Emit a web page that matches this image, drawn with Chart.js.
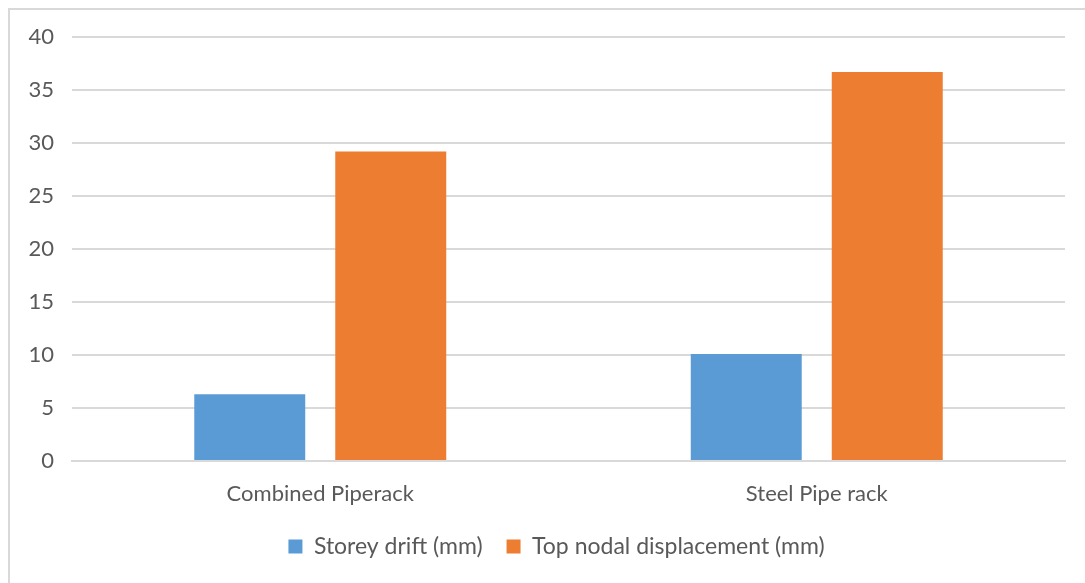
<!DOCTYPE html>
<html>
<head>
<meta charset="utf-8">
<script src="https://cdn.jsdelivr.net/npm/chart.js@4.4.1/dist/chart.umd.min.js"></script>
<style>
  html, body { margin: 0; padding: 0; background: #fff; overflow: hidden; }
  #frame { position: absolute; left: 8px; top: 8px; width: 1100px; height: 600px; border: 2px solid #d9d9d9; box-sizing: border-box; }
  #wrap { position: absolute; left: 0; top: 0; width: 1085px; height: 583px; }
</style>
</head>
<body>
<div id="frame"></div>
<div id="wrap"><canvas id="bar-chart"></canvas></div>
<script>
var categories = ['Combined Piperack', 'Steel Pipe rack'];
var storeyDrift = [6.3, 10.1];
var topNodalDisplacement = [29.2, 36.7];
var seriesNames = ['Storey drift (mm)', 'Top nodal displacement (mm)'];

var canvas = document.getElementById('bar-chart');
var font = { family: 'Lato, "Open Sans", sans-serif', size: 22 };
var legendFont = { family: 'Lato, "Open Sans", sans-serif', size: 23 };

var data = {
    labels: categories,
    datasets: [{
        label: seriesNames[0],
        data: storeyDrift,
        backgroundColor: '#5b9bd5',
        categoryPercentage: 0.568,
        barPercentage: 0.787
    }, {
        label: seriesNames[1],
        data: topNodalDisplacement,
        backgroundColor: '#ed7d31',
        categoryPercentage: 0.568,
        barPercentage: 0.787
    }]
};

// the legend in the original sits a bit right of the plot centre
var shiftLegend = {
    id: 'shiftLegend',
    afterLayout: function (chart) {
        chart.legend.left += 24;
        chart.legend.right += 24;
    }
};

var options = {
    responsive: false,
    animation: false,
    layout: { padding: { left: 0, right: 20, top: 37, bottom: 15 } },
    plugins: {
        tooltip: { enabled: false },
        legend: {
            position: 'bottom',
            labels: { color: '#595959', font: legendFont, boxWidth: 14, boxHeight: 14, padding: 24 }
        }
    },
    scales: {
        x: {
            grid: { display: false, drawTicks: false },
            border: { color: '#d9d9d9', width: 2 },
            ticks: { color: '#595959', font: font, padding: 20 },
            afterFit: function (s) { s.height = 50; }
        },
        y: {
            min: 0, max: 40,
            ticks: { stepSize: 5, color: '#595959', font: font, padding: 18 },
            grid: { color: '#d9d9d9', lineWidth: 2, drawTicks: false },
            border: { display: false },
            afterFit: function (s) { s.width = 72; }
        }
    }
};

canvas.width = 1085;
canvas.height = 583;
var barChart = new Chart(canvas, { type: 'bar', data: data, options: options, plugins: [shiftLegend] });
</script>
</body>
</html>
